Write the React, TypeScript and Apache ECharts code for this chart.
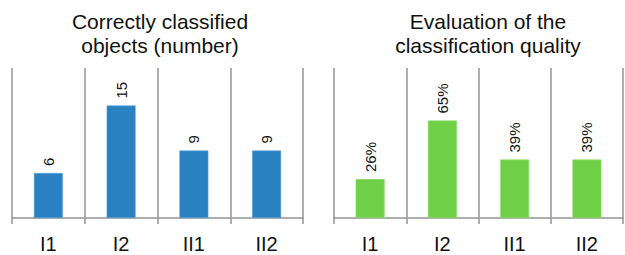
import React, { useEffect, useRef } from "react";
import * as echarts from "echarts";

const categories = ["I1", "I2", "II1", "II2"];
const countValues = [6, 15, 9, 9];
const qualityValues = [26, 65, 39, 39];
const leftTitle = "Correctly classified\nobjects (number)";
const rightTitle = "Evaluation of the\nclassification quality";

const FONT = "Liberation Sans, Arial, sans-serif";

export default function App() {
  const ref = useRef<HTMLDivElement>(null);
  useEffect(() => {
    if (!ref.current) return;
    const chart = echarts.init(ref.current, undefined, { renderer: "svg" });
    const xAxisBase = (gridIndex: number) => ({
      type: "category" as const,
      gridIndex,
      data: categories,
      boundaryGap: true,
      axisLine: { show: true, lineStyle: { color: "#949494", width: 1.5 } },
      axisTick: { show: true, length: 6, lineStyle: { color: "#949494", width: 1.5 } },
      splitLine: { show: true, lineStyle: { color: "#949494", width: 1.5 } },
      axisLabel: { fontSize: 20, color: "#111", fontFamily: FONT, margin: 16 },
    });
    const labelBase = {
      show: true,
      position: "top" as const,
      rotate: 90,
      align: "left" as const,
      verticalAlign: "middle" as const,
      distance: 7,
      fontSize: 15,
      color: "#111",
      fontFamily: FONT,
    };
    chart.setOption({
      animation: false,
      backgroundColor: "#fff",
      title: [
        {
          text: leftTitle,
          left: 160,
          textAlign: "center",
          top: 9,
          padding: 0,
          textStyle: { fontSize: 21, fontWeight: "normal", color: "#111", fontFamily: FONT, lineHeight: 24 },
        },
        {
          text: rightTitle,
          left: 488,
          textAlign: "center",
          top: 9,
          padding: 0,
          textStyle: { fontSize: 21, fontWeight: "normal", color: "#111", fontFamily: FONT, lineHeight: 24 },
        },
      ],
      grid: [
        { left: 12, right: 322, top: 68, bottom: 37 },
        { left: 334, right: 2, top: 68, bottom: 37 },
      ],
      xAxis: [xAxisBase(0), xAxisBase(1)],
      yAxis: [
        { type: "value", gridIndex: 0, min: 0, max: 20, show: false, splitLine: { show: false } },
        { type: "value", gridIndex: 1, min: 0, max: 100, show: false, splitLine: { show: false } },
      ],
      series: [
        {
          type: "bar",
          xAxisIndex: 0,
          yAxisIndex: 0,
          data: countValues,
          barWidth: 29,
          itemStyle: { color: "#2A81C2", borderColor: "#5aa6dc", borderWidth: 0.6 },
          label: { ...labelBase },
        },
        {
          type: "bar",
          xAxisIndex: 1,
          yAxisIndex: 1,
          data: qualityValues,
          barWidth: 29,
          itemStyle: { color: "#6FD047", borderColor: "#8fe06c", borderWidth: 0.6 },
          label: { ...labelBase, formatter: "{c}%" },
        },
      ],
    });
    return () => chart.dispose();
  }, []);
  return <div ref={ref} style={{ width: 625, height: 255, position: "absolute", left: 0, top: 0 }} />;
}
